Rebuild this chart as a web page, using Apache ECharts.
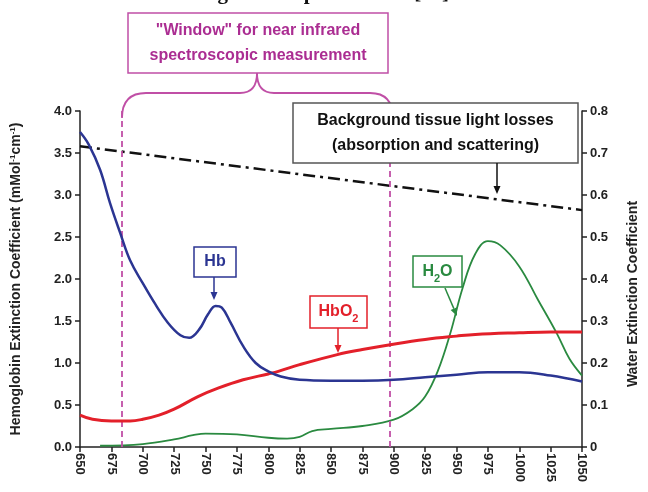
<!DOCTYPE html>
<html>
<head>
<meta charset="utf-8">
<script src="https://cdn.jsdelivr.net/npm/echarts@6/dist/echarts.min.js"></script>
<style>
    html, body { margin: 0; padding: 0; background: #fff; }
    #main { width: 648px; height: 492px; }
</style>
</head>
<body>
<div id="main"></div>
<script>
    // wavelengths (nm) and values
    const hbWl = [650, 657, 666, 674, 682, 690, 700, 710, 720, 730, 737, 745, 752, 758, 763, 770, 780, 790, 800, 810, 825, 850, 875, 900, 925, 950, 975, 1000, 1025, 1050];
    const hbVal = [3.75, 3.6, 3.3, 2.9, 2.55, 2.22, 1.95, 1.7, 1.48, 1.33, 1.3, 1.4, 1.58, 1.68, 1.66, 1.48, 1.2, 1.0, 0.9, 0.84, 0.8, 0.79, 0.79, 0.8, 0.83, 0.86, 0.89, 0.89, 0.85, 0.78];

    const hbo2Wl = [650, 660, 675, 690, 700, 713, 725, 744, 760, 780, 800, 808, 825, 855, 875, 902, 925, 950, 965, 1000, 1025, 1050];
    const hbo2Val = [0.38, 0.33, 0.31, 0.31, 0.33, 0.38, 0.45, 0.6, 0.7, 0.8, 0.87, 0.9, 0.98, 1.1, 1.16, 1.23, 1.28, 1.32, 1.34, 1.36, 1.37, 1.37];

    const waterWl = [666, 700, 725, 740, 750, 775, 800, 815, 825, 835, 850, 875, 900, 915, 925, 935, 945, 955, 965, 975, 985, 1000, 1015, 1030, 1040, 1050];
    const waterVal = [0.003, 0.007, 0.018, 0.028, 0.032, 0.03, 0.022, 0.02, 0.024, 0.038, 0.043, 0.05, 0.065, 0.09, 0.12, 0.18, 0.27, 0.38, 0.46, 0.49, 0.48, 0.43, 0.35, 0.27, 0.21, 0.17];

    const lossWl = [650, 1050];
    const lossVal = [3.58, 2.82];

    const windowEdges = [683, 897];
    const xTicks = {min: 650, max: 1050, step: 25};

    const pairs = (xs, ys) => xs.map((x, i) => [x, ys[i]]);

    const MAGENTA = '#ab2d92';
    const BLUE = '#2b3592';
    const RED = '#e3202a';
    const GREEN = '#2a8a40';
    const FONT = 'Liberation Sans, Arial, sans-serif';

    /*boxed label with text*/
    function box(x, y, w, h, color, text, rich, textColor) {
        return {
            type: 'group',
            children: [
                {type: 'rect', shape: {x: x, y: y, width: w, height: h}, style: {fill: '#fff', stroke: color, lineWidth: 1.5}, z: 10},
                {
                    type: 'text', x: x + w / 2, y: y + h / 2, z: 11,
                    style: {
                        text: text, align: 'center', verticalAlign: 'middle',
                        fill: textColor || color, font: 'bold 16px ' + FONT, lineHeight: 25,
                        rich: rich || {}
                    }
                }
            ]
        };
    }

    /*arrow: line with a triangle head*/
    function arrow(x1, y1, x2, y2, color) {
        const a = Math.atan2(y2 - y1, x2 - x1);
        const len = 8, half = 3.5;
        const bx = x2 - len * Math.cos(a), by = y2 - len * Math.sin(a);
        return {
            type: 'group',
            children: [
                {type: 'line', shape: {x1: x1, y1: y1, x2: bx, y2: by}, style: {stroke: color, lineWidth: 1.5}, z: 10},
                {
                    type: 'polygon', z: 10,
                    shape: {points: [[x2, y2], [bx - half * Math.sin(a), by + half * Math.cos(a)], [bx + half * Math.sin(a), by - half * Math.cos(a)]]},
                    style: {fill: color}
                }
            ]
        };
    }

    const subRich = (color) => ({
        a: {fill: color, font: 'bold 16px ' + FONT},
        s: {fill: color, font: 'bold 11px ' + FONT, verticalAlign: 'bottom', padding: [8, 0, 0, 0]}
    });

    const braceStyle = {stroke: '#c04fa6', lineWidth: 1.8, fill: null};

    const chart = echarts.init(document.getElementById('main'));
    chart.setOption({
        animation: false,
        backgroundColor: '#fff',
        grid: {left: 80, right: 60, top: 111, bottom: 45},
        xAxis: {
            type: 'value',
            min: xTicks.min,
            max: xTicks.max,
            interval: xTicks.step,
            axisLine: {lineStyle: {color: '#222', width: 1.5}},
            axisTick: {length: 5, lineStyle: {color: '#222', width: 1.5}},
            axisLabel: {rotate: -90, margin: 6, formatter: v => String(v), color: '#222', fontWeight: 'bold', fontSize: 13, fontFamily: FONT},
            splitLine: {show: false}
        },
        yAxis: [
            {
                type: 'value',
                min: 0, max: 4, interval: 0.5,
                name: '{a|Hemoglobin Extinction Coefficient (mMol}{s|-1}{a|cm}{s|-1}{a|)}',
                nameLocation: 'middle',
                nameGap: 57,
                nameTextStyle: {
                    rich: {
                        a: {fontWeight: 'bold', fontSize: 14, fontFamily: FONT, color: '#222'},
                        s: {fontWeight: 'bold', fontSize: 8, fontFamily: FONT, color: '#222', verticalAlign: 'top'}
                    }
                },
                axisLine: {show: true, lineStyle: {color: '#222', width: 1.5}},
                axisTick: {show: true, length: 5, lineStyle: {color: '#222', width: 1.5}},
                axisLabel: {formatter: v => v.toFixed(1), margin: 8, color: '#222', fontWeight: 'bold', fontSize: 13, fontFamily: FONT},
                splitLine: {show: false}
            },
            {
                type: 'value',
                position: 'right',
                min: 0, max: 0.8, interval: 0.1,
                name: 'Water Extinction Coefficient',
                nameLocation: 'middle',
                nameRotate: 90,
                nameGap: 44,
                nameTextStyle: {fontWeight: 'bold', fontSize: 14, fontFamily: FONT, color: '#222', padding: [0, 0, 0, -30]},
                axisLine: {show: true, lineStyle: {color: '#222', width: 1.5}},
                axisTick: {show: true, length: 5, lineStyle: {color: '#222', width: 1.5}},
                axisLabel: {formatter: v => v === 0 ? '0' : v.toFixed(1), margin: 8, color: '#222', fontWeight: 'bold', fontSize: 13, fontFamily: FONT},
                splitLine: {show: false}
            }
        ],
        series: [
            {
                name: 'Background loss',
                type: 'line',
                data: pairs(lossWl, lossVal),
                symbol: 'none',
                lineStyle: {color: '#111', width: 2.5, type: [12, 5, 3, 5]},
                z: 3
            },
            {
                name: 'H2O',
                type: 'line',
                yAxisIndex: 1,
                data: pairs(waterWl, waterVal),
                smooth: 0.4,
                symbol: 'none',
                lineStyle: {color: GREEN, width: 1.8},
                z: 4
            },
            {
                name: 'HbO2',
                type: 'line',
                data: pairs(hbo2Wl, hbo2Val),
                smooth: 0.4,
                symbol: 'none',
                lineStyle: {color: RED, width: 3},
                z: 5
            },
            {
                name: 'Hb',
                type: 'line',
                data: pairs(hbWl, hbVal),
                smooth: 0.4,
                symbol: 'none',
                lineStyle: {color: BLUE, width: 2.5},
                z: 6,
                markLine: {
                    silent: true,
                    symbol: 'none',
                    label: {show: false},
                    lineStyle: {color: '#c04fa6', width: 1.8, type: [6, 4]},
                    data: windowEdges.map(w => ({xAxis: w}))
                }
            }
        ],
        graphic: [
            {
                type: 'text', x: 324, y: 4,
                style: {text: 'Fig.1 Principle of NIRS [22]', align: 'center', verticalAlign: 'bottom', font: 'bold 21px Liberation Serif, serif', fill: '#111'}
            },
            box(128, 13, 260, 60, '#c04fa6', '"Window" for near infrared\nspectroscopic measurement', null, MAGENTA),
            /*brace above the window*/
            {type: 'bezierCurve', shape: {x1: 122, y1: 118, cpx1: 122, cpy1: 93, x2: 146, y2: 93}, style: braceStyle},
            {type: 'line', shape: {x1: 146, y1: 93, x2: 240, y2: 93}, style: braceStyle},
            {type: 'bezierCurve', shape: {x1: 240, y1: 93, cpx1: 257, cpy1: 93, x2: 257, y2: 73}, style: braceStyle},
            {type: 'bezierCurve', shape: {x1: 257, y1: 73, cpx1: 257, cpy1: 93, x2: 274, y2: 93}, style: braceStyle},
            {type: 'line', shape: {x1: 274, y1: 93, x2: 370, y2: 93}, style: braceStyle},
            {type: 'bezierCurve', shape: {x1: 370, y1: 93, cpx1: 393, cpy1: 93, x2: 393, y2: 118}, style: braceStyle},
            box(293, 103, 285, 60, '#555', 'Background tissue light losses\n(absorption and scattering)', null, '#111'),
            arrow(497, 163, 497, 194, '#111'),
            box(194, 247, 42, 30, BLUE, 'Hb', null),
            arrow(214, 277, 214, 300, BLUE),
            box(310, 296, 57, 32, RED, '{a|HbO}{s|2}', subRich(RED)),
            arrow(338, 328, 338, 353, RED),
            box(413, 256, 49, 31, GREEN, '{a|H}{s|2}{a|O}', subRich(GREEN)),
            arrow(445, 288, 457, 316, GREEN)
        ]
    });
</script>
</body>
</html>
